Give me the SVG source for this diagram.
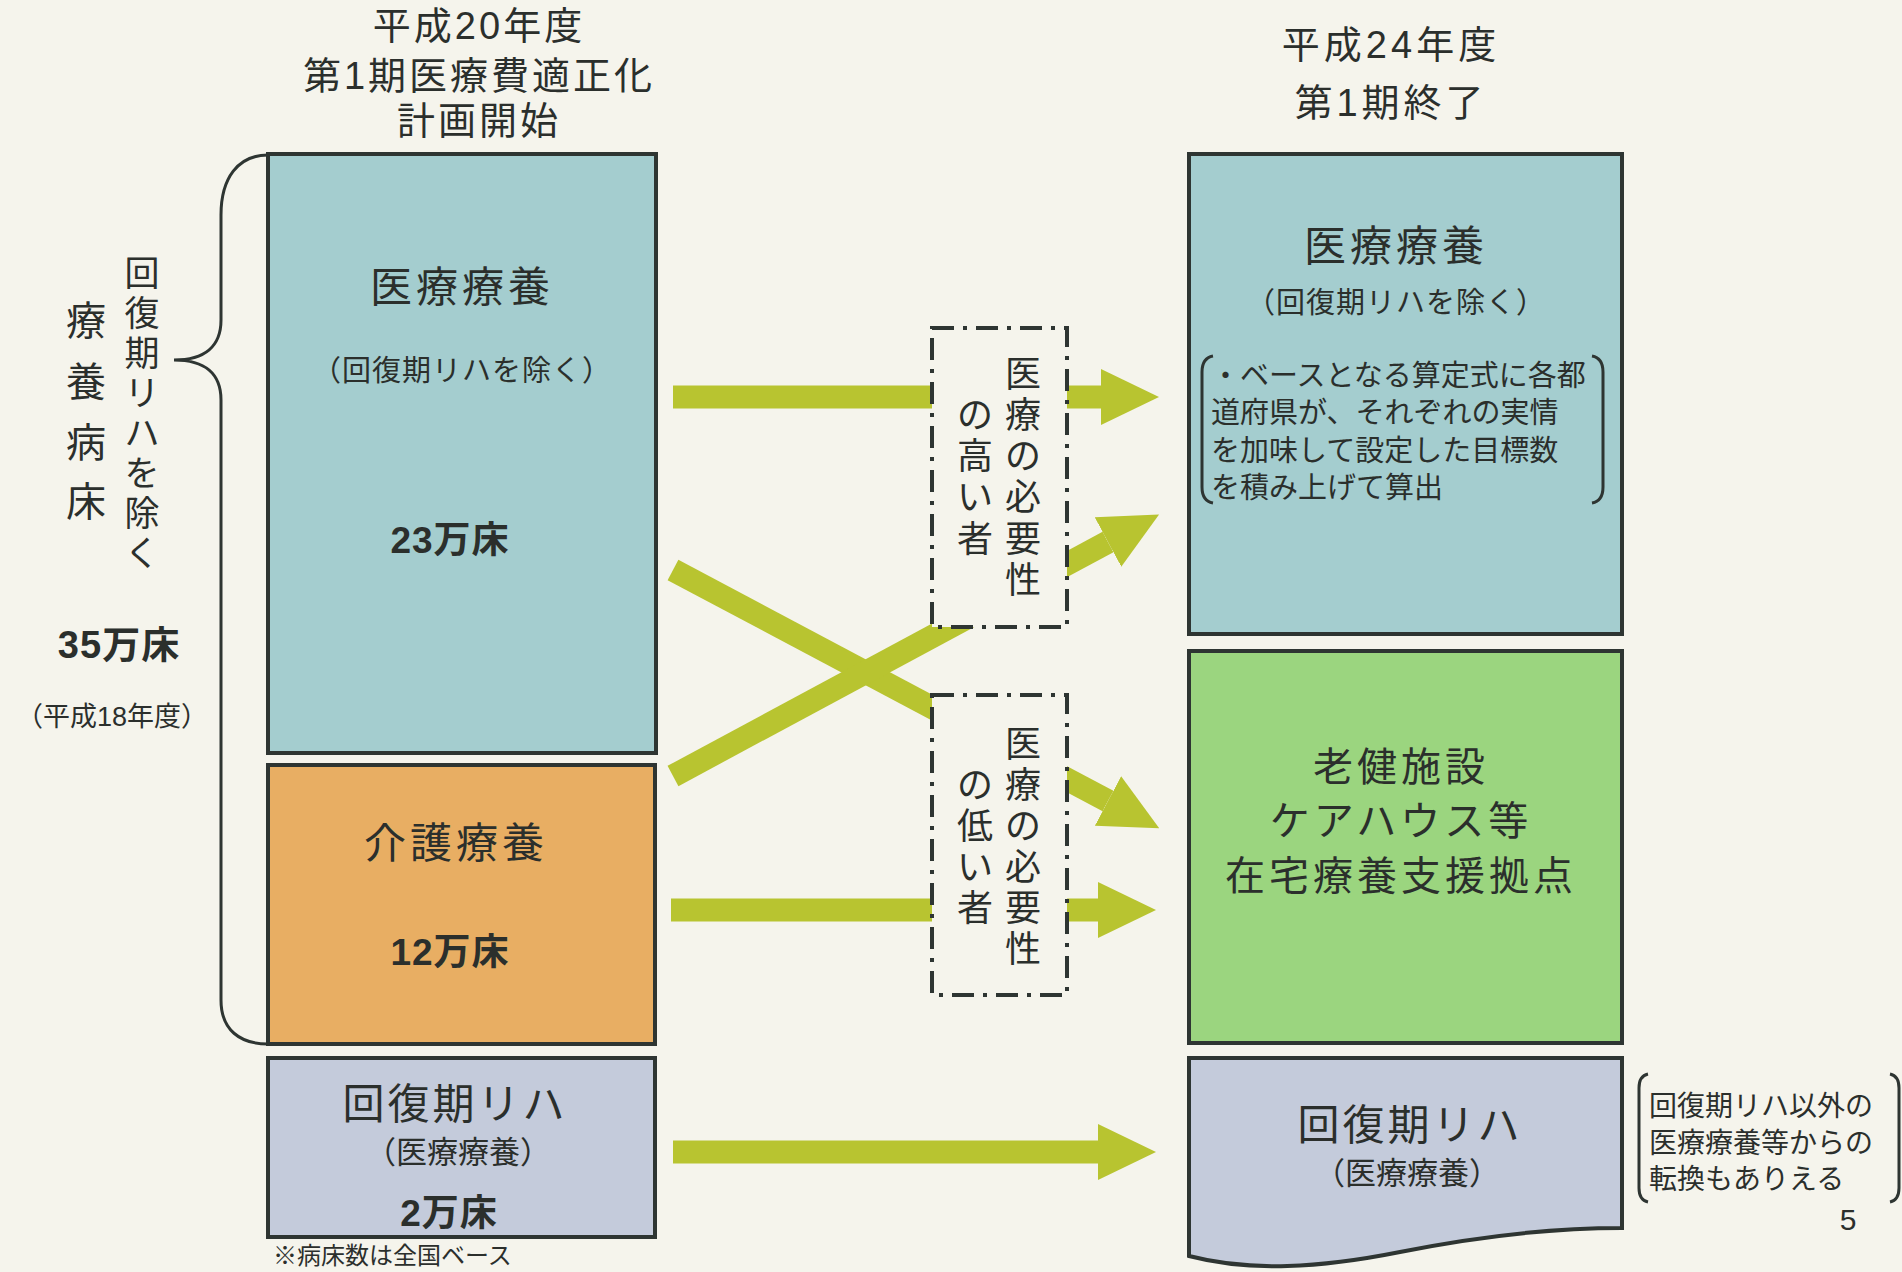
<svg xmlns="http://www.w3.org/2000/svg" width="1902" height="1272" viewBox="0 0 1902 1272">
<defs>
<style>
text{font-family:"Liberation Sans","Noto Sans CJK JP",sans-serif;fill:#2b2f2c;dominant-baseline:central}
.box{stroke:#2e3532;stroke-width:4}
.c{text-anchor:middle}
.b{font-weight:bold}
.arrow{stroke:#b8c430;stroke-width:23;fill:none}
.dd{fill:#f5f4ec;stroke:#2e3532;stroke-width:4;stroke-dasharray:22 9 4 9}
.ln{fill:none;stroke:#2e3532;stroke-width:3}
</style>
<marker id="ah" markerUnits="userSpaceOnUse" markerWidth="58" markerHeight="58" refX="0" refY="28" orient="auto" viewBox="0 0 58 56">
<path d="M0,0 L58,28 L0,56 z" fill="#b8c430"/>
</marker>
</defs>
<rect width="1902" height="1272" fill="#f5f4ec"/>

<g id="title-left">
<text class="c" x="479" y="26" font-size="38" letter-spacing="3">平成20年度</text>
<text class="c" x="479" y="76" font-size="38" letter-spacing="3">第1期医療費適正化</text>
<text class="c" x="479" y="121" font-size="38" letter-spacing="3">計画開始</text>
</g>
<g id="title-right">
<text class="c" x="1391" y="45" font-size="38" letter-spacing="4">平成24年度</text>
<text class="c" x="1391" y="103" font-size="38" letter-spacing="4">第1期終了</text>
</g>

<g id="brace-label">
<path class="ln" d="M268,155 C238,155 221,178 221,215 L221,320 C221,346 205,360 174,360 C205,360 221,374 221,400 L221,1000 C221,1030 240,1044 268,1044"/>
<text class="c" font-size="35">
<tspan x="142" y="273">回</tspan><tspan x="142" y="313">復</tspan><tspan x="142" y="353">期</tspan><tspan x="142" y="393">リ</tspan><tspan x="142" y="433">ハ</tspan><tspan x="142" y="473">を</tspan><tspan x="142" y="513">除</tspan><tspan x="142" y="553">く</tspan>
</text>
<text class="c" font-size="40">
<tspan x="86" y="321">療</tspan><tspan x="86" y="382">養</tspan><tspan x="86" y="443">病</tspan><tspan x="86" y="502">床</tspan>
</text>
<text class="c b" x="119" y="645" font-size="38" letter-spacing="1">35万床</text>
<text class="c" x="112" y="717" font-size="27">（平成18年度）</text>
</g>

<g id="connectors">
<line class="arrow" x1="673" y1="397" x2="1101" y2="397" marker-end="url(#ah)"/>
<line class="arrow" x1="673" y1="570" x2="1108" y2="801" marker-end="url(#ah)"/>
<line class="arrow" x1="673" y1="776" x2="1108" y2="542" marker-end="url(#ah)"/>
<line class="arrow" x1="671" y1="910" x2="1098" y2="910" marker-end="url(#ah)"/>
<line class="arrow" x1="673" y1="1152" x2="1098" y2="1152" marker-end="url(#ah)"/>
</g>

<g id="high-need">
<rect class="dd" x="932" y="328" width="135" height="299"/>
<text class="c" font-size="36">
<tspan x="1023" y="374">医</tspan><tspan x="1023" y="415">療</tspan><tspan x="1023" y="456">の</tspan><tspan x="1023" y="497">必</tspan><tspan x="1023" y="539">要</tspan><tspan x="1023" y="580">性</tspan>
</text>
<text class="c" font-size="36">
<tspan x="975" y="415">の</tspan><tspan x="975" y="456">高</tspan><tspan x="975" y="497">い</tspan><tspan x="975" y="539">者</tspan>
</text>
</g>
<g id="low-need">
<rect class="dd" x="932" y="695" width="135" height="300"/>
<text class="c" font-size="36">
<tspan x="1023" y="744">医</tspan><tspan x="1023" y="785">療</tspan><tspan x="1023" y="826">の</tspan><tspan x="1023" y="867">必</tspan><tspan x="1023" y="908">要</tspan><tspan x="1023" y="949">性</tspan>
</text>
<text class="c" font-size="36">
<tspan x="975" y="785">の</tspan><tspan x="975" y="826">低</tspan><tspan x="975" y="867">い</tspan><tspan x="975" y="908">者</tspan>
</text>
</g>

<g id="left-iryo">
<rect class="box" x="268" y="154" width="388" height="599" fill="#a4cdcf"/>
<text class="c" x="462" y="287" font-size="42" letter-spacing="4">医療療養</text>
<text class="c" x="462" y="371" font-size="29" letter-spacing="1">（回復期リハを除く）</text>
<text class="c b" x="450" y="540" font-size="37" letter-spacing="1">23万床</text>
</g>
<g id="left-kaigo">
<rect class="box" x="268" y="765" width="387" height="279" fill="#e8ae63"/>
<text class="c" x="456" y="843" font-size="42" letter-spacing="4">介護療養</text>
<text class="c b" x="450" y="952" font-size="37" letter-spacing="1">12万床</text>
</g>
<g id="left-kaifuku">
<rect class="box" x="268" y="1058" width="387" height="179" fill="#c4cbdb"/>
<text class="c" x="455" y="1104" font-size="42" letter-spacing="3">回復期リハ</text>
<text class="c" x="458" y="1152" font-size="31">（医療療養）</text>
<text class="c b" x="449" y="1213" font-size="37" letter-spacing="1">2万床</text>
</g>
<text id="note-left" x="273" y="1255" font-size="24">※病床数は全国ベース</text>

<g id="right-iryo">
<rect class="box" x="1189" y="154" width="433" height="480" fill="#a4cdcf"/>
<text class="c" x="1396" y="246" font-size="42" letter-spacing="4">医療療養</text>
<text class="c" x="1396" y="303" font-size="29" letter-spacing="1">（回復期リハを除く）</text>
<path class="ln" d="M1213,356 Q1202,358 1202,372 L1202,487 Q1202,501 1213,503"/>
<path class="ln" d="M1592,356 Q1603,358 1603,372 L1603,487 Q1603,501 1592,503"/>
<text x="1211" y="376" font-size="29">・ベースとなる算定式に各都</text>
<text x="1211" y="413" font-size="29">道府県が、それぞれの実情</text>
<text x="1211" y="451" font-size="29">を加味して設定した目標数</text>
<text x="1211" y="488" font-size="29">を積み上げて算出</text>
</g>
<g id="right-shisetsu">
<rect class="box" x="1189" y="651" width="433" height="392" fill="#9bd57f"/>
<text class="c" x="1401" y="767" font-size="40" letter-spacing="4">老健施設</text>
<text class="c" x="1401" y="821" font-size="40" letter-spacing="4">ケアハウス等</text>
<text class="c" x="1401" y="876" font-size="40" letter-spacing="4">在宅療養支援拠点</text>
</g>
<g id="right-kaifuku">
<path class="box" d="M1189,1058 L1622,1058 L1622,1228 C1560,1228 1480,1236 1400,1252 C1320,1268 1250,1272 1189,1256 Z" fill="#c4cbdb"/>
<text class="c" x="1410" y="1125" font-size="42" letter-spacing="3">回復期リハ</text>
<text class="c" x="1407" y="1173" font-size="31">（医療療養）</text>
</g>
<g id="note-right">
<path class="ln" d="M1648,1074 Q1639,1076 1639,1088 L1639,1188 Q1639,1200 1648,1202"/>
<path class="ln" d="M1890,1074 Q1899,1076 1899,1088 L1899,1188 Q1899,1200 1890,1202"/>
<text x="1649" y="1106" font-size="28">回復期リハ以外の</text>
<text x="1649" y="1143" font-size="28">医療療養等からの</text>
<text x="1649" y="1179" font-size="28">転換もありえる</text>
</g>
<text id="page" class="c" x="1848" y="1219" font-size="30">5</text>
</svg>
